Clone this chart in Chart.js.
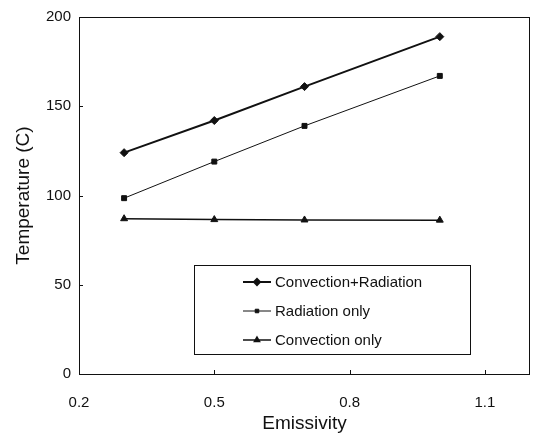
<!DOCTYPE html>
<html>
<head>
<meta charset="utf-8">
<script src="https://cdn.jsdelivr.net/npm/chart.js@4/dist/chart.umd.min.js"></script>
<style>
  html, body { margin: 0; padding: 0; background: #fff; }
  #wrap { width: 535px; height: 435px; }
</style>
</head>
<body>
<div id="wrap"><canvas id="chart" width="535" height="435"></canvas></div>
<script>
/* emissivity vs temperature, three cases */
const emissivity = [0.3, 0.5, 0.7, 1.0];
const convRad = [124, 142, 161, 189];
const radOnly = [98.5, 119, 139, 167];
const convOnly = [87, 86.5, 86.3, 86.2];
const seriesNames = ["Convection+Radiation", "Radiation only", "Convection only"];
const xTicks = [0.2, 0.5, 0.8, 1.1];
const yTicks = [0, 50, 100, 150, 200];

const FONT = "'Liberation Sans', Arial, sans-serif";
const INK = "#111";

function toPoints(ys) {
  return emissivity.map((x, i) => ({ x, y: ys[i] }));
}

// frame + inward tick marks
const framePlugin = {
  id: "frame",
  afterDraw(chart) {
    const { ctx, chartArea: a, scales } = chart;
    ctx.save();
    ctx.strokeStyle = INK;
    ctx.lineWidth = 1;
    ctx.strokeRect(a.left + 0.5, a.top + 0.5, a.right - a.left - 1, a.bottom - a.top);
    ctx.beginPath();
    xTicks.forEach((v) => {
      const px = Math.round(scales.x.getPixelForValue(v)) + 0.5;
      ctx.moveTo(px, a.bottom);
      ctx.lineTo(px, a.bottom - 4);
    });
    yTicks.forEach((v) => {
      const py = Math.round(scales.y.getPixelForValue(v)) + 0.5;
      ctx.moveTo(a.left, py);
      ctx.lineTo(a.left + 4, py);
    });
    ctx.stroke();
    ctx.restore();
  },
};

// boxed legend inside the plot
const legendBox = {
  id: "legendBox",
  afterDraw(chart) {
    const { ctx } = chart;
    ctx.save();
    ctx.strokeStyle = INK;
    ctx.lineWidth = 1;
    ctx.strokeRect(194.5, 265.5, 276, 89);
    ctx.font = "15px " + FONT;
    ctx.textBaseline = "middle";
    ctx.fillStyle = INK;
    chart.data.datasets.forEach((ds, i) => {
      const y = 282 + i * 29;
      ctx.beginPath();
      ctx.lineWidth = ds.borderWidth;
      ctx.strokeStyle = INK;
      ctx.moveTo(243, y);
      ctx.lineTo(271, y);
      ctx.stroke();
      Chart.helpers.drawPoint(ctx, {
        pointStyle: ds.pointStyle,
        radius: ds.pointRadius - 1,
        borderWidth: 1,
      }, 257, y);
      ctx.fillText(ds.label, 275, y + 1);
    });
    ctx.restore();
  },
};

function series(label, data, style, radius, width) {
  return {
    label,
    data: toPoints(data),
    borderColor: INK,
    backgroundColor: INK,
    borderWidth: width,
    pointStyle: style,
    pointRadius: radius,
    pointBackgroundColor: INK,
    pointBorderColor: INK,
    pointBorderWidth: 1,
    tension: 0,
  };
}

new Chart(document.getElementById("chart"), {
  type: "line",
  data: {
    datasets: [
      series(seriesNames[0], convRad, "rectRot", 4, 2),
      series(seriesNames[1], radOnly, "rect", 3.5, 1),
      series(seriesNames[2], convOnly, "triangle", 4, 1.5),
    ],
  },
  plugins: [framePlugin, legendBox],
  options: {
    responsive: false,
    animation: false,
    devicePixelRatio: 1,
    layout: { padding: { top: 14, right: 0, left: 0, bottom: 0 } },
    plugins: { legend: { display: false }, tooltip: { enabled: false } },
    scales: {
      x: {
        type: "linear",
        min: 0.2,
        max: 1.2,
        afterBuildTicks: (s) => { s.ticks = xTicks.map((value) => ({ value })); },
        afterFit: (s) => { s.height = 61; },
        grid: { display: false, drawTicks: false },
        border: { display: false },
        ticks: {
          color: INK,
          padding: 20,
          maxRotation: 0,
          font: { family: FONT, size: 15 },
          callback: (v) => v.toFixed(1),
        },
        title: {
          display: true,
          text: "Emissivity",
          color: INK,
          font: { family: FONT, size: 19 },
          padding: { top: 0, bottom: 0 },
        },
      },
      y: {
        min: 0,
        max: 200,
        afterBuildTicks: (s) => { s.ticks = yTicks.map((value) => ({ value })); },
        afterFit: (s) => { s.width = 79; },
        grid: { display: false, drawTicks: false },
        border: { display: false },
        ticks: {
          color: INK,
          padding: 8,
          font: { family: FONT, size: 15 },
        },
        title: {
          display: true,
          text: "Temperature (C)",
          color: INK,
          font: { family: FONT, size: 19 },
          padding: { top: 12, bottom: 0 },
        },
      },
    },
  },
});
</script>
</body>
</html>
